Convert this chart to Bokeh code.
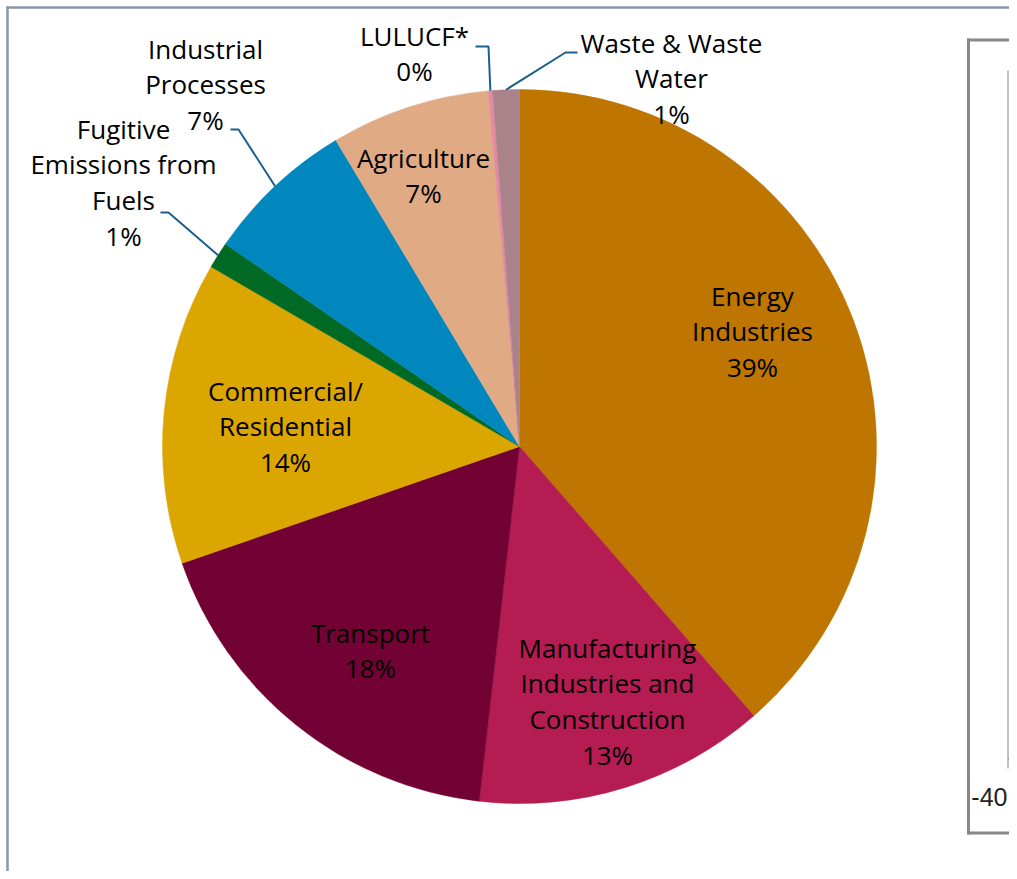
import numpy as np
from bokeh.plotting import figure
from bokeh.models import Range1d
from bokeh.embed import file_html
from bokeh.resources import INLINE
from bokeh.core.properties import value

# ---------------- data ----------------
sectors = ["Energy Industries", "Manufacturing Industries and Construction", "Transport",
           "Commercial/Residential", "Fugitive Emissions from Fuels", "Industrial Processes",
           "Agriculture", "LULUCF*", "Waste & Waste Water"]
shares = [38.6, 13.2, 17.9, 13.7, 1.2, 6.8, 7.2, 0.2, 1.2]
name_lines = [["Energy", "Industries"],
              ["Manufacturing", "Industries and", "Construction"],
              ["Transport"],
              ["Commercial/", "Residential"],
              ["Fugitive", "Emissions from", "Fuels"],
              ["Industrial", "Processes"],
              ["Agriculture"],
              ["LULUCF*"],
              ["Waste & Waste", "Water"]]
colors = ["#BE7600", "#B41C52", "#730234", "#DCA600", "#006A24",
          "#0088BE", "#E0AA84", "#E38BA0", "#A9828A"]
side_tick_label = ["-40"]

# ---------------- layout (pixels of the picture) ----------------
W, H = 1009, 871
def Y(sy):
    return H - sy

CX, CY, R = 519, Y(446), 357
label_x = [752, 607, 370, 285, 123, 205, 423, 414, 671]
label_base = [295, 647, 632, 390, 128, 48, 157, 35, 42]
LINE_SP = 35.7
# leader line label-side points: index -> [(x,y),(x,y)]
leaders = {4: [(160, 212), (168, 212)],
           5: [(230, 129), (238, 129)],
           7: [(475, 46), (488, 46)],
           8: [(577, 52), (565, 52)]}

p = figure(width=W, height=H, x_range=Range1d(0, W), y_range=Range1d(0, H),
           output_backend="svg", toolbar_location=None, x_axis_type=None, y_axis_type=None,
           min_border=0, outline_line_color=None, background_fill_color="white",
           border_fill_color="white")
p.grid.visible = False

# pie
frac = np.array(shares) / np.sum(shares)
cum = np.concatenate([[0.0], np.cumsum(frac)])
start = np.pi / 2 - cum[:-1] * 2 * np.pi
end = np.pi / 2 - cum[1:] * 2 * np.pi
p.wedge(x=CX, y=CY, radius=R, start_angle=start, end_angle=end, direction="clock",
        fill_color=colors, line_color=colors, line_width=0.5)

# leader lines
xs, ys = [], []
for i, pts in leaders.items():
    mid = np.pi / 2 - (cum[i] + cum[i + 1]) * np.pi
    ex, ey = CX + R * np.cos(mid), CY + R * np.sin(mid)
    xs.append([pts[0][0], pts[1][0], ex])
    ys.append([Y(pts[0][1]), Y(pts[1][1]), ey])
p.multi_line(xs=xs, ys=ys, line_color="#1B5F8C", line_width=2)

# labels
tx, ty, tt = [], [], []
for i, lines in enumerate(name_lines):
    allines = lines + [f"{round(shares[i])}%"]
    for k, s in enumerate(allines):
        tx.append(label_x[i])
        ty.append(Y(label_base[i] + k * LINE_SP))
        tt.append(s)
p.text(x=tx, y=ty, text=tt, text_font=value("Open Sans"), text_font_size=value("26px"),
       text_align="center", text_baseline="alphabetic", text_color="#000000")

# outer chart frame (top and left edges)
p.segment(x0=[6, 7], y0=[Y(7), Y(6)], x1=[W, 7], y1=[Y(7), 0],
          line_color="#8797A8", line_width=2.5)

# neighbouring chart frame (partially visible)
p.segment(x0=[968, 966.5, 966.5], y0=[Y(38), Y(39.5), Y(832.5)],
          x1=[968, W, W], y1=[Y(834), Y(39.5), Y(832.5)],
          line_color="#888888", line_width=3)
p.segment(x0=[1007.5, 1007.5], y0=[Y(70), Y(758.5)], x1=[1007.5, W], y1=[Y(768), Y(758.5)],
          line_color="#868686", line_width=1)
p.text(x=[1007], y=[Y(796)], text=side_tick_label, text_font=value("Liberation Sans"),
       text_font_size=value("25px"), text_align="right", text_baseline="alphabetic",
       text_color="#222222")

open("out.html", "w").write(file_html(p, INLINE))
